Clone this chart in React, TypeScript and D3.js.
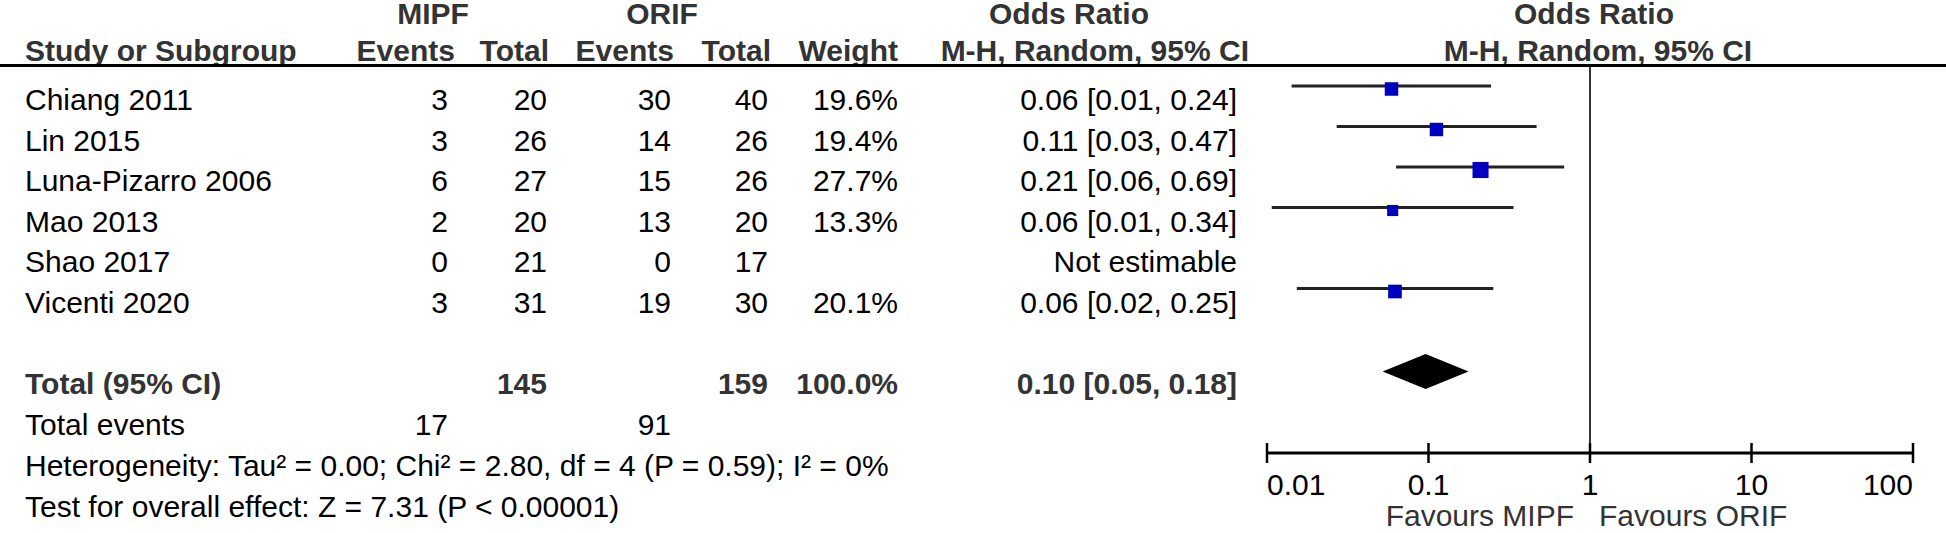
import React from 'react';
import * as d3 from 'd3';

/* ── data ──────────────────────────────────────────────────── */
const studies = ["Chiang 2011", "Lin 2015", "Luna-Pizarro 2006", "Mao 2013", "Shao 2017", "Vicenti 2020"];
const mipfEvents = [3, 3, 6, 2, 0, 3];
const mipfTotal = [20, 26, 27, 20, 21, 31];
const orifEvents = [30, 14, 15, 13, 0, 19];
const orifTotal = [40, 26, 26, 20, 17, 30];
const weights = [19.6, 19.4, 27.7, 13.3, null, 20.1];
const oddsRatio = [0.059, 0.112, 0.21, 0.06, null, 0.062];
const ciLower = [0.0142, 0.027, 0.063, 0.0107, null, 0.0153];
const ciUpper = [0.244, 0.467, 0.692, 0.336, null, 0.252];

const pooled = [0.096, 0.052, 0.177]; // OR, lower, upper
const totalWeight = "100.0%";
const axisTicks = [0.01, 0.1, 1, 10, 100];
const tickLabels = ["0.01", "0.1", "1", "10", "100"];

const heterogeneity = "Heterogeneity: Tau² = 0.00; Chi² = 2.80, df = 4 (P = 0.59); I² = 0%";
const overallTest = "Test for overall effect: Z = 7.31 (P < 0.00001)";

const W = 1946, H = 533;
const FONT = "'Liberation Sans', Arial, Helvetica, sans-serif";
const FS = 30;
const HEAD = "#333";

// column right edges
const COL = { mipfEv: 448, mipfTot: 547, orifEv: 671, orifTot: 768, weight: 898, ci: 1237 };

export default function App() {
  const x = d3.scaleLog().domain([0.01, 100]).range([1267, 1913]);
  const sq = d3.scaleSqrt().domain([0, 100]).range([0, 30.5]);
  const f2 = d3.format(".2f");
  const ciText = (o, l, u) => `${f2(o)} [${f2(l)}, ${f2(u)}]`;

  const pitch = 40.5;
  const rowMark = (i) => 86 + i * pitch;     // centre of CI line
  const rowBase = (i) => rowMark(i) + 24;    // text baseline
  const totalRow = studies.length + 1;
  const axisY = 453;

  const txt = (props, s) => (
    <text fontFamily={FONT} fontSize={FS} {...props}>{s}</text>
  );

  const [pOR, pLo, pHi] = pooled;
  const dy = rowMark(totalRow) + 2;

  return (
    <svg width={W} height={H} style={{ position: 'absolute', left: 0, top: 0, background: '#fff' }}>
      <rect width={W} height={H} fill="#fff" />

      {/* header */}
      <g fontWeight="bold" fill={HEAD}>
        {txt({ x: 433, y: 24, textAnchor: "middle" }, "MIPF")}
        {txt({ x: 662, y: 24, textAnchor: "middle" }, "ORIF")}
        {txt({ x: 1069, y: 24, textAnchor: "middle" }, "Odds Ratio")}
        {txt({ x: 1594, y: 24, textAnchor: "middle" }, "Odds Ratio")}
        {txt({ x: 25, y: 61 }, "Study or Subgroup")}
        {txt({ x: 455, y: 61, textAnchor: "end" }, "Events")}
        {txt({ x: 549, y: 61, textAnchor: "end" }, "Total")}
        {txt({ x: 674, y: 61, textAnchor: "end" }, "Events")}
        {txt({ x: 771, y: 61, textAnchor: "end" }, "Total")}
        {txt({ x: 898, y: 61, textAnchor: "end" }, "Weight")}
        {txt({ x: 1249, y: 61, textAnchor: "end" }, "M-H, Random, 95% CI")}
        {txt({ x: 1598, y: 61, textAnchor: "middle" }, "M-H, Random, 95% CI")}
      </g>
      <line x1={0} x2={W} y1={65.5} y2={65.5} stroke="#000" strokeWidth={3} />

      {/* study rows */}
      {studies.map((s, i) => (
        <g key={s} fill="#000">
          {txt({ x: 25, y: rowBase(i) }, s)}
          {txt({ x: COL.mipfEv, y: rowBase(i), textAnchor: "end" }, mipfEvents[i])}
          {txt({ x: COL.mipfTot, y: rowBase(i), textAnchor: "end" }, mipfTotal[i])}
          {txt({ x: COL.orifEv, y: rowBase(i), textAnchor: "end" }, orifEvents[i])}
          {txt({ x: COL.orifTot, y: rowBase(i), textAnchor: "end" }, orifTotal[i])}
          {weights[i] != null && txt({ x: COL.weight, y: rowBase(i), textAnchor: "end" }, weights[i].toFixed(1) + "%")}
          {txt({ x: COL.ci, y: rowBase(i), textAnchor: "end" },
            oddsRatio[i] != null ? ciText(oddsRatio[i], ciLower[i], ciUpper[i]) : "Not estimable")}
        </g>
      ))}

      {/* total row */}
      <g fontWeight="bold" fill={HEAD}>
        {txt({ x: 25, y: rowBase(totalRow) }, "Total (95% CI)")}
        {txt({ x: COL.mipfTot, y: rowBase(totalRow), textAnchor: "end" }, d3.sum(mipfTotal))}
        {txt({ x: COL.orifTot, y: rowBase(totalRow), textAnchor: "end" }, d3.sum(orifTotal))}
        {txt({ x: COL.weight, y: rowBase(totalRow), textAnchor: "end" }, totalWeight)}
        {txt({ x: COL.ci, y: rowBase(totalRow), textAnchor: "end" }, ciText(pOR, pLo, pHi))}
      </g>
      <g fill="#000">
        {txt({ x: 25, y: 435 }, "Total events")}
        {txt({ x: COL.mipfEv, y: 435, textAnchor: "end" }, d3.sum(mipfEvents))}
        {txt({ x: COL.orifEv, y: 435, textAnchor: "end" }, d3.sum(orifEvents))}
        {txt({ x: 25, y: 476 }, heterogeneity)}
        {txt({ x: 25, y: 517 }, overallTest)}
      </g>

      {/* forest plot */}
      <line x1={x(1)} x2={x(1)} y1={67} y2={axisY} stroke="#333" strokeWidth={2} />
      {studies.map((s, i) => {
        if (oddsRatio[i] == null) return null;
        const side = sq(weights[i]);
        const cy = rowMark(i) + 3;
        return (
          <g key={s}>
            <line x1={x(ciLower[i])} x2={x(ciUpper[i])} y1={rowMark(i)} y2={rowMark(i)}
              stroke="#222" strokeWidth={3} />
            <rect x={x(oddsRatio[i]) - side / 2} y={cy - side / 2} width={side} height={side} fill="#0000c0" />
          </g>
        );
      })}
      <polygon
        points={[[x(pLo), dy], [x(pOR), dy - 17.5], [x(pHi), dy], [x(pOR), dy + 17.5]].map(p => p.join(",")).join(" ")}
        fill="#000" />

      {/* axis */}
      <line x1={x(0.01)} x2={x(100)} y1={axisY} y2={axisY} stroke="#000" strokeWidth={3} />
      {axisTicks.map((t, i) => (
        <g key={t}>
          <line x1={x(t)} x2={x(t)} y1={axisY - 10} y2={axisY + 10} stroke="#000" strokeWidth={2.5} />
          {txt({
            x: x(t), y: 495, fill: "#000",
            textAnchor: i === 0 ? "start" : i === axisTicks.length - 1 ? "end" : "middle",
          }, tickLabels[i])}
        </g>
      ))}
      {txt({ x: x(1) - 16, y: 526, textAnchor: "end", fill: HEAD }, "Favours MIPF")}
      {txt({ x: x(1) + 9, y: 526, textAnchor: "start", fill: HEAD }, "Favours ORIF")}
    </svg>
  );
}
